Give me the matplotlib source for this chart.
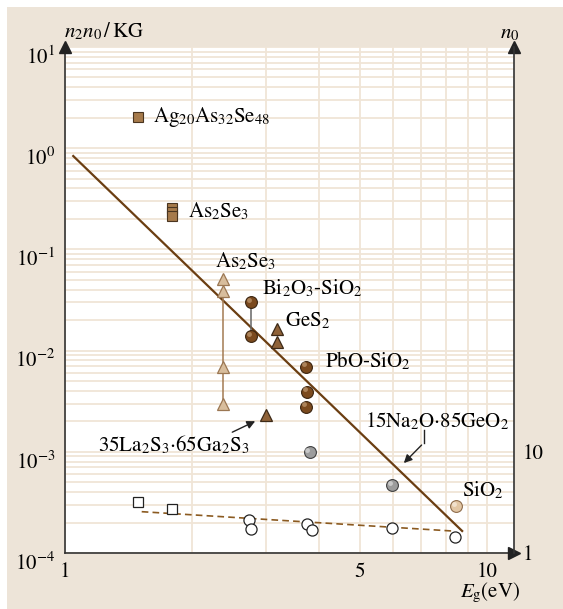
import matplotlib
matplotlib.use("Agg")
import matplotlib.pyplot as plt
from matplotlib.patches import Rectangle
from matplotlib.ticker import FixedLocator, NullFormatter, NullLocator
from matplotlib.transforms import ScaledTranslation, offset_copy

plt.rcParams['font.family'] = 'STIXGeneral'
plt.rcParams['mathtext.fontset'] = 'stix'

# n2*n0/KG values (left axis)
ag_E, ag_V = [1.49], [2.03]
as2se3_sq_E, as2se3_sq_V = [1.79, 1.79, 1.79], [0.255, 0.234, 0.215]
as2se3_tri_E, as2se3_tri_V = [2.375, 2.375, 2.375, 2.375], [0.051, 0.0388, 0.00689, 0.00297]
bi_E, bi_V = [2.76, 2.76], [0.0304, 0.0139]
ges2_E, ges2_V = [3.18, 3.18], [0.0162, 0.01225]
pbo_E, pbo_V = [3.73, 3.75, 3.73], [0.00693, 0.00393, 0.00279]
la_E, la_V = [2.99], [0.00231]
na_E, na_V = [3.80, 5.97], [0.00100, 0.00047]
sio2_E, sio2_V = [8.45], [0.000291]

# E^-4 scaling line
fit_E = [1.046, 8.74]
fit_V = [0.837, 1.65e-4]

# linear refractive index n0 (right axis)
n0_sq_E, n0_sq = [1.49, 1.79], [3.17, 2.74]
n0_ci_E = [2.73, 2.76, 3.74, 3.86, 5.97, 8.41]
n0_ci = [2.10, 1.71, 1.93, 1.69, 1.78, 1.45]
n0_fit_E, n0_fit = [1.52, 8.27], [2.56, 1.65]

left_ticks = [1e-4, 1e-3, 1e-2, 1e-1, 1e0, 1e1]
x_ticks = [1, 5, 10]
x_tick_labels = ['1', '5', '10']
right_ticks = [1, 10]
right_tick_labels = ['1', '10']

W, H = 563, 609
fig = plt.figure(figsize=(W / 100, H / 100), dpi=100)
fig.patch.set_facecolor('white')
fig.patches.append(Rectangle((7 / W, 0), 1, 1 - 7 / H, transform=fig.transFigure,
                             facecolor='#ede4d8', edgecolor='none', zorder=-10))

ax = fig.add_axes([65 / W, 56 / H, 449 / W, 506 / H])
ax.set_facecolor('white')
ax.set_xscale('log')
ax.set_yscale('log')
ax.set_xlim(1, 11.6)
ax.set_ylim(1e-4, 1e1)

grid_c = '#f0e5d7'
ax.xaxis.set_major_locator(FixedLocator(x_ticks))
ax.xaxis.set_minor_locator(FixedLocator([2, 3, 4, 6, 7, 8, 9]))
ax.xaxis.set_minor_formatter(NullFormatter())
ax.set_xticklabels(x_tick_labels)
ax.yaxis.set_major_locator(FixedLocator(left_ticks))
ax.grid(True, which='both', color=grid_c, lw=1.3, zorder=0)
ax.set_axisbelow(True)
ax.tick_params(which='both', length=0, labelsize=15)
ax.tick_params(axis='x', pad=7)
ax.tick_params(axis='y', pad=7)
for lab in ax.get_yticklabels():
    lab.set_transform(lab.get_transform() + ScaledTranslation(0, -0.08, fig.dpi_scale_trans))

for s in ['top', 'right']:
    ax.spines[s].set_visible(False)
for s in ['left', 'bottom']:
    ax.spines[s].set_color('#333333')
    ax.spines[s].set_linewidth(1.2)

# axis arrows
ax.plot([0], [1], marker='^', ms=9, color='#222222', transform=ax.transAxes, clip_on=False, zorder=6)
ax.plot([1], [1], marker='^', ms=9, color='#222222', transform=ax.transAxes, clip_on=False, zorder=6)
ax.plot([1], [0], marker='>', ms=9, color='#222222', transform=ax.transAxes, clip_on=False, zorder=6)

# fit line
ax.plot(fit_E, fit_V, color='#6b3e12', lw=1.6, zorder=3)

# connectors
ax.plot([as2se3_tri_E[1], as2se3_tri_E[3]], [as2se3_tri_V[1], as2se3_tri_V[3]],
        color='#a37a52', lw=1.1, zorder=3)
ax.plot(bi_E, bi_V, color='#666666', lw=1.1, zorder=3)


def spheres(E, V, face, edge, light):
    ax.plot(E, V, 'o', ms=8.5, mfc=face, mec=edge, mew=0.8, ls='none', zorder=5)
    tr = offset_copy(ax.transData, fig=fig, x=-1.6, y=1.6, units='points')
    ax.plot(E, V, 'o', ms=3.5, mfc=light, mec='none', alpha=0.55, ls='none',
            transform=tr, zorder=5)


ax.plot(ag_E, ag_V, 's', ms=7, mfc='#a67a4b', mec='#4a3520', mew=0.8, zorder=5)
ax.plot(as2se3_sq_E, as2se3_sq_V, 's', ms=7, mfc='#a67a4b', mec='#4a3520', mew=0.8, ls='none', zorder=5)
ax.plot(as2se3_tri_E, as2se3_tri_V, '^', ms=9, mfc='#d8bd9c', mec='#9b7753', mew=0.9, ls='none', zorder=5)
ax.plot(ges2_E, ges2_V, '^', ms=9, mfc='#8f6238', mec='#3d2a18', mew=0.9, ls='none', zorder=5)
ax.plot(la_E, la_V, '^', ms=9, mfc='#8f6238', mec='#3d2a18', mew=0.9, ls='none', zorder=5)
spheres(bi_E, bi_V, '#7b4a1e', '#3a2410', '#d7b48c')
spheres(pbo_E, pbo_V, '#7b4a1e', '#3a2410', '#d7b48c')
spheres(na_E, na_V, '#9c9c9c', '#404040', '#eeeeee')
spheres(sio2_E, sio2_V, '#e2c6a4', '#8f6d4c', '#fff8f0')

fs = 15
ax.text(1.616, 2.03, r'Ag$_{20}$As$_{32}$Se$_{48}$', fontsize=fs, va='center')
ax.text(1.957, 0.236, r'As$_2$Se$_3$', fontsize=fs, va='center')
ax.text(2.685, 0.0755, r'As$_2$Se$_3$', fontsize=fs, va='center', ha='center')
ax.text(2.93, 0.0413, r'Bi$_2$O$_3$-SiO$_2$', fontsize=fs, va='center')
ax.text(3.32, 0.0197, r'GeS$_2$', fontsize=fs, va='center')
ax.text(4.13, 0.00789, r'PbO-SiO$_2$', fontsize=fs, va='center')
ax.text(1.195, 0.00117, r'35La$_2$S$_3$$\cdot$65Ga$_2$S$_3$', fontsize=fs, va='center')
ax.text(5.15, 0.00198, r'15Na$_2$O$\cdot$85GeO$_2$', fontsize=fs, va='center')
ax.text(8.71, 0.000413, r'SiO$_2$', fontsize=fs, va='center')

ax.annotate('', xy=(2.863, 0.00206), xytext=(2.458, 0.00152),
            arrowprops=dict(arrowstyle='-|>', color='#222222', lw=1.0, mutation_scale=12), zorder=6)
ax.plot([7.08, 7.08], [0.00164, 0.00122], color='#222222', lw=1.0, zorder=6)
ax.annotate('', xy=(6.29, 0.00074), xytext=(7.08, 0.00122),
            arrowprops=dict(arrowstyle='-|>', color='#222222', lw=1.0, mutation_scale=12), zorder=6)

# right axis: n0
ax2 = ax.twinx()
ax2.set_yscale('log')
ax2.set_ylim(1, 1e5)
ax2.yaxis.set_major_locator(FixedLocator(right_ticks))
ax2.yaxis.set_minor_locator(NullLocator())
ax2.set_yticklabels(right_tick_labels)
ax2.tick_params(which='both', length=0, labelsize=15, pad=6)
for s in ['top', 'left', 'bottom']:
    ax2.spines[s].set_visible(False)
ax2.spines['right'].set_color('#333333')
ax2.spines['right'].set_linewidth(1.2)

ax2.plot(n0_fit_E, n0_fit, ls=(0, (4, 2.5)), color='#8b5a20', lw=1.2, zorder=3)
ax2.plot(n0_sq_E, n0_sq, 's', ms=6.5, mfc='white', mec='#222222', mew=0.9, ls='none', zorder=5)
ax2.plot(n0_ci_E, n0_ci, 'o', ms=8, mfc='white', mec='#222222', mew=0.9, ls='none', zorder=5)

fig.text(104 / W, 1 - 31.7 / H, r'$n_2n_0\,/\,\mathrm{KG}$', fontsize=fs, ha='center', va='center')
fig.text(510 / W, 1 - 33 / H, r'$n_0$', fontsize=fs, ha='center', va='center')
fig.text(490 / W, 1 - 593 / H, r'$E_\mathrm{g}$(eV)', fontsize=fs, ha='center', va='center')

fig.savefig('out.png', dpi=100)
